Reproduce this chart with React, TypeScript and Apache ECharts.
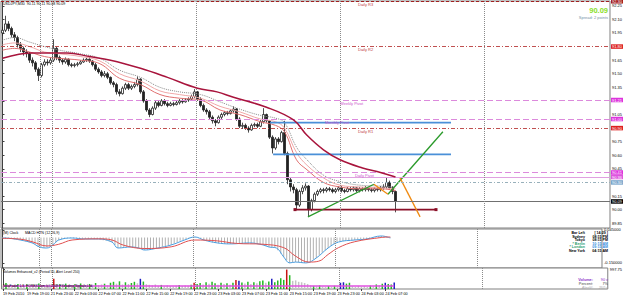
import React, { useEffect, useRef } from "react";
import * as echarts from "echarts";

const FONT = "'Liberation Sans', Arial, sans-serif";
const SLOTS = 203;
const LABEL_EVERY = 8;
const slotNames = Array.from({ length: SLOTS }, (_, i) => String(i));

const timeLabels = [
  "19 Feb 2010", "19 Feb 19:00", "21 Feb 23:00", "22 Feb 03:00", "22 Feb 07:00", "22 Feb 11:00",
  "22 Feb 15:00", "22 Feb 19:00", "22 Feb 23:00", "23 Feb 03:00", "23 Feb 07:00", "23 Feb 11:00",
  "23 Feb 15:00", "23 Feb 19:00", "23 Feb 23:00", "24 Feb 03:00", "24 Feb 07:00",
];

const priceTicks = [89.85, 90.0, 90.15, 90.3, 90.45, 90.6, 90.75, 90.9, 91.05, 91.2, 91.35, 91.5, 91.65, 91.8, 91.95, 92.1, 92.25];
const macdTicks = [0.045, -0.15];
const macdTickLabels = ["0.045000", "-0.150000"];
const volTicks = [1650];
const volTickLabels = ["997.75"];

// [open, close, low, high]
const candles = [
  [91.95,91.98,91.92,92.02],[91.98,92.05,91.96,92.14],[92.05,92.00,91.97,92.08],[92.00,91.93,91.90,92.02],[91.93,91.90,91.86,91.96],[91.90,91.82,91.79,91.92],[91.82,91.78,91.74,91.85],[91.78,91.74,91.70,91.80],[91.74,91.72,91.68,91.77],[91.72,91.65,91.62,91.74],
  [91.65,91.62,91.58,91.68],[91.62,91.55,91.52,91.64],[91.55,91.48,91.42,91.57],[91.48,91.60,91.46,91.62],[91.60,91.63,91.58,91.66],[91.63,91.62,91.59,91.66],[91.62,91.65,91.60,91.68],[91.65,91.78,91.63,91.88],[91.78,91.68,91.65,91.80],[91.68,91.65,91.62,91.70],
  [91.65,91.63,91.60,91.67],[91.63,91.66,91.61,91.68],[91.66,91.60,91.58,91.67],[91.60,91.59,91.57,91.62],[91.59,91.60,91.57,91.62],[91.60,91.61,91.58,91.63],[91.61,91.63,91.60,91.65],[91.63,91.65,91.62,91.67],[91.65,91.66,91.63,91.68],[91.66,91.64,91.62,91.68],
  [91.64,91.60,91.58,91.65],[91.60,91.55,91.53,91.62],[91.55,91.52,91.50,91.57],[91.52,91.48,91.46,91.54],[91.48,91.50,91.46,91.53],[91.50,91.46,91.44,91.52],[91.46,91.40,91.38,91.47],[91.40,91.38,91.35,91.42],[91.38,91.30,91.27,91.40],[91.30,91.28,91.25,91.33],
  [91.28,91.34,91.27,91.36],[91.34,91.38,91.32,91.40],[91.38,91.34,91.32,91.40],[91.34,91.36,91.32,91.38],[91.36,91.38,91.34,91.41],[91.38,91.44,91.36,91.47],[91.44,91.30,91.28,91.45],[91.30,91.20,91.18,91.32],[91.20,91.10,91.08,91.22],[91.10,91.05,91.02,91.12],
  [91.05,91.12,91.04,91.14],[91.12,91.18,91.10,91.20],[91.18,91.15,91.13,91.20],[91.15,91.20,91.14,91.22],[91.20,91.17,91.15,91.22],[91.17,91.15,91.13,91.19],[91.15,91.17,91.14,91.19],[91.17,91.16,91.14,91.19],[91.16,91.18,91.15,91.20],[91.18,91.20,91.16,91.22],
  [91.20,91.19,91.17,91.22],[91.19,91.21,91.18,91.23],[91.21,91.22,91.19,91.24],[91.22,91.25,91.20,91.27],[91.25,91.30,91.23,91.33],[91.30,91.22,91.20,91.31],[91.22,91.15,91.13,91.24],[91.15,91.10,91.08,91.17],[91.10,91.08,91.05,91.12],[91.08,91.02,91.00,91.10],
  [91.02,90.98,90.95,91.04],[90.98,90.96,90.92,91.00],[90.96,91.02,90.95,91.04],[91.02,91.05,91.00,91.07],[91.05,91.07,91.03,91.09],[91.07,91.06,91.04,91.09],[91.06,91.09,91.05,91.11],[91.09,91.11,91.07,91.14],[91.11,91.00,90.98,91.12],[91.00,90.92,90.90,91.02],
  [90.92,90.93,90.89,90.96],[90.93,90.90,90.88,90.95],[90.90,90.88,90.85,90.92],[90.88,90.93,90.87,90.95],[90.93,90.94,90.91,90.96],[90.94,90.92,90.90,90.96],[90.92,90.97,90.91,90.99],[90.97,91.05,90.95,91.12],[91.05,90.98,90.96,91.06],[90.98,90.80,90.78,90.99],
  [90.80,90.68,90.62,90.82],[90.68,90.78,90.66,90.80],[90.78,90.75,90.72,90.80],[90.75,90.85,90.74,90.87],[90.85,90.62,90.60,90.98],[90.62,90.33,90.28,90.64],[90.33,90.25,90.20,90.36],[90.25,90.22,90.18,90.28],[90.22,90.05,90.00,90.24],[90.05,90.20,90.03,90.22],
  [90.20,90.24,90.17,90.27],[90.24,90.26,90.21,90.29],[90.26,90.00,89.92,90.27],[90.00,90.10,89.98,90.12],[90.10,90.17,90.08,90.19],[90.17,90.20,90.15,90.22],[90.20,90.22,90.18,90.24],[90.22,90.21,90.18,90.24],[90.21,90.23,90.19,90.25],[90.23,90.22,90.20,90.25],
  [90.22,90.20,90.18,90.24],[90.20,90.22,90.18,90.24],[90.22,90.24,90.20,90.26],[90.24,90.21,90.19,90.26],[90.21,90.20,90.18,90.23],[90.20,90.23,90.19,90.25],[90.23,90.22,90.20,90.25],[90.22,90.24,90.20,90.26],[90.24,90.21,90.19,90.25],[90.21,90.23,90.19,90.25],
  [90.23,90.22,90.20,90.25],[90.22,90.24,90.20,90.26],[90.24,90.22,90.20,90.25],[90.22,90.21,90.19,90.24],[90.21,90.23,90.19,90.25],[90.23,90.22,90.20,90.25],[90.22,90.24,90.20,90.26],[90.24,90.25,90.22,90.28],[90.25,90.30,90.23,90.36],[90.30,90.24,90.22,90.32],
  [90.24,90.20,90.17,90.26],[90.20,90.09,89.97,90.21],
];

// moving averages: [bar, price]
const maSlow = [[0,91.67],[10,91.73],[21.5,91.73],[29,91.69],[36,91.65],[46,91.56],[55,91.46],[65,91.34],[71.5,91.30],[77,91.24],[88,91.13],[97,90.99],[101.5,90.82],[107,90.66],[112.5,90.55],[120,90.46],[126,90.41],[131,90.36]];
const maBars = [0, 4, 9, 14, 19, 26, 32.5, 39, 46, 52.5, 59, 66, 72.5, 79, 86, 91, 94, 98, 101.5, 107, 112.5, 119, 126, 131];
const maFastA = [91.76,91.78,91.74,91.69,91.67,91.65,91.61,91.45,91.38,91.27,91.23,91.21,91.10,91.05,90.97,90.93,90.86,90.55,90.44,90.30,90.25,90.23,90.23,90.21];
const maFastB = [91.82,91.84,91.80,91.74,91.72,91.69,91.64,91.50,91.42,91.31,91.27,91.23,91.14,91.08,91.00,90.97,90.90,90.63,90.49,90.35,90.27,90.25,90.24,90.23];
const maFastC = [91.87,91.90,91.85,91.80,91.76,91.72,91.67,91.54,91.46,91.35,91.30,91.27,91.19,91.11,91.04,91.01,90.96,90.69,90.55,90.38,90.31,90.27,90.26,90.25];

// horizontal levels
const levelNames = ["Daily R3", "Daily R2", "Weekly Pivot", "Monthly Pivot", "Daily R1", "Daily Pivot", "", "", ""];
const levelValues = [92.30, 91.80, 91.21, 91.00, 90.90, 90.41, 90.36, 90.30, 90.09];

// drawn objects [bar, price]
const greenLines = [[[101.8, 89.92], [123.8, 90.28]], [[128.5, 90.17], [146.8, 90.86]]];
const orangeLines = [[[123.8, 90.28], [128.5, 90.17]], [[132.5, 90.35], [139.2, 89.92]]];
const blueLevels = [[[89.2, 90.96], [149.5, 90.96]], [[90.2, 90.61], [149.5, 90.61]]];
const supportLine = [[97.5, 90.0], [144.5, 90.0]];
const daySeparators = [12.5, 16.5, 64.5, 112.5, 160.5];

// MACD
const macdHist = [
  -0.003,-0.004,-0.005,-0.007,-0.010,-0.012,-0.015,-0.020,-0.025,-0.029,
  -0.032,-0.042,-0.056,-0.060,-0.062,-0.058,-0.052,-0.044,-0.030,-0.015,
  -0.010,-0.006,-0.004,-0.003,-0.004,-0.005,-0.007,-0.008,-0.009,-0.009,
  -0.009,-0.009,-0.009,-0.012,-0.016,-0.020,-0.024,-0.027,-0.045,-0.062,
  -0.060,-0.058,-0.056,-0.056,-0.058,-0.060,-0.062,-0.068,-0.074,-0.072,
  -0.070,-0.066,-0.062,-0.058,-0.055,-0.051,-0.048,-0.044,-0.036,-0.028,
  -0.020,-0.015,-0.010,-0.005,0.000,0.003,-0.003,-0.009,-0.015,-0.020,
  -0.024,-0.028,-0.032,-0.034,-0.035,-0.036,-0.037,-0.038,-0.037,-0.036,
  -0.035,-0.034,-0.033,-0.032,-0.034,-0.036,-0.039,-0.041,-0.044,-0.050,
  -0.056,-0.059,-0.062,-0.075,-0.095,-0.115,-0.135,-0.150,-0.148,-0.145,
  -0.147,-0.149,-0.150,-0.145,-0.138,-0.130,-0.121,-0.105,-0.090,-0.075,
  -0.062,-0.050,-0.038,-0.027,-0.024,-0.022,-0.020,-0.018,-0.016,-0.015,
  -0.013,-0.012,-0.010,-0.009,-0.005,-0.002,0.002,0.006,0.009,0.006,
  0.002,-0.003,
];
const macdMain = [[0,-0.003],[2.5,-0.005],[6,-0.015],[10,-0.032],[12.5,-0.056],[15,-0.062],[17,-0.044],[19,-0.015],[23.5,-0.003],[28,-0.009],[32.5,-0.009],[37,-0.027],[39,-0.062],[43.5,-0.056],[46,-0.062],[48,-0.074],[52.5,-0.062],[57,-0.044],[61.5,-0.015],[65,0.003],[68,-0.015],[72.5,-0.032],[77,-0.038],[83.5,-0.032],[88,-0.044],[90,-0.056],[92.5,-0.062],[95,-0.115],[97,-0.150],[99,-0.145],[102.5,-0.150],[106,-0.121],[110,-0.062],[113.5,-0.027],[119,-0.015],[123,-0.009],[128,0.009],[131,-0.003]];
const macdSignal = [[0,-0.005],[6,-0.010],[10,-0.025],[15,-0.050],[19,-0.040],[23.5,-0.015],[32.5,-0.008],[37,-0.015],[40.8,-0.045],[48,-0.065],[57,-0.055],[65,-0.015],[72.5,-0.020],[79,-0.035],[88,-0.040],[95,-0.060],[99,-0.110],[103.5,-0.145],[106.8,-0.140],[110,-0.100],[113.5,-0.060],[119,-0.025],[128,0.000],[131,0.003]];

// Volumes
const volumes = [
  300,510,250,340,260,420,300,220,380,280,
  330,250,450,300,200,260,350,850,420,380,
  300,450,340,280,390,310,460,350,300,420,
  360,500,330,380,440,300,520,600,450,640,
  380,560,420,500,600,480,850,620,400,350,
  300,380,260,340,220,300,250,200,280,330,
  240,300,280,350,520,420,500,380,560,430,
  600,480,350,520,410,470,360,520,760,680,
  540,450,600,420,560,480,640,700,520,620,
  850,560,700,900,760,1620,1150,680,720,600,
  560,500,420,300,260,220,300,200,180,250,
  200,270,230,520,560,450,520,230,180,260,
  200,240,170,280,220,380,320,440,520,420,
  380,540,
];
const volTypes =
  "gGgggGggGg" + "ggGggggRgG" + "gGggGgGggG" + "gGggGgGGgG" + "gGgGGgBGgg" +
  "gggGgggggG" + "gggGRGGgGg" + "GGgGgGgGRB" + "GgGgGgGGgG" + "BGGGGRGggg" +
  "ggggGgGggG" + "gGgBBGGggg" + "gggGgGgGBG" + "GB";
const alertLevel = 250;

const volColor: Record<string, string> = { g: "#c4c4c4", G: "#22b822", B: "#1c1cc0", R: "#c81414" };

const levelStyles = [
  { color: "#a02020", type: [3, 2], box: "#a01818", text: "#c04040" },
  { color: "#c05050", type: [4, 2, 1, 2], box: "#dd2020", text: "#c04040" },
  { color: "#dc8adc", type: [6, 3], box: "#dd33dd", text: "#cc55cc" },
  { color: "#dc8adc", type: [6, 3], box: "#dd33dd", text: "#cc55cc" },
  { color: "#c05050", type: [4, 2, 1, 2], box: "#dd2020", text: "#c04040" },
  { color: "#dc8adc", type: [6, 3], box: "#dd33dd", text: "#cc55cc" },
  { color: "#e0a0e0", type: "solid", box: "#dd55dd", text: "#cc55cc" },
  { color: "#98b0bb", type: [3, 2, 1, 2], box: "#7aa6cc", text: "#557788" },
  { color: "#707070", type: "solid", box: "#000000", text: "#000" },
];
const levelLabelAt = [118.5, 118.5, 112.5, 107.5, 118.5, 117.5, 0, 0, 0];

function sepLines() {
  return daySeparators.map((v) => ({ xAxis: v, lineStyle: { color: "#8a8a8a", type: [1, 1], width: 1 }, label: { show: false } }));
}

function txt(text: string, x: number, y: number, opts: any = {}) {
  return {
    type: "text", x, y, silent: true, z: 100,
    style: { text, fill: opts.fill || "#000", fontSize: opts.size || 4, fontFamily: FONT, fontWeight: opts.weight || "normal", fontStyle: opts.style || "normal", align: opts.align || "left", verticalAlign: "top" },
  };
}

function buildOption() {
  const levelLines = levelValues.map((v, i) => ({
    yAxis: v,
    lineStyle: { color: levelStyles[i].color, type: levelStyles[i].type, width: 1 },
    label: { show: true, position: "end", distance: 1, formatter: v.toFixed(2), color: "#fff", backgroundColor: levelStyles[i].box, fontSize: 4, fontFamily: FONT, padding: [0.5, 1, 0, 1] },
  }));
  const levelMarks = levelNames
    .map((n, i) => ({ n, i }))
    .filter((o) => o.n)
    .map(({ n, i }) => ({
      name: n, coord: [levelLabelAt[i], levelValues[i]], symbol: "rect", symbolSize: 0,
      label: { show: true, formatter: n, position: "bottom", distance: 1, align: "left", color: levelStyles[i].text, fontSize: 4, fontFamily: FONT },
    }));

  const seg = (data: number[][], color: string, width: number, extra: any = {}) => ({
    type: "line", xAxisIndex: 1, yAxisIndex: 0, data, showSymbol: false, symbol: "none",
    lineStyle: { color, width }, silent: true, z: 4, ...extra,
  });

  const series: any[] = [
    {
      type: "candlestick", xAxisIndex: 0, yAxisIndex: 0, data: candles, barWidth: 1.6, z: 3,
      itemStyle: { color: "#ffffff", color0: "#222222", borderColor: "#222222", borderColor0: "#222222", borderWidth: 0.8 },
    },
    {
      type: "line", xAxisIndex: 1, yAxisIndex: 0, data: maSlow, smooth: 0.4, showSymbol: false, symbol: "none",
      lineStyle: { color: "#a8143c", width: 1.5 }, z: 5,
      markLine: { silent: true, symbol: ["none", "none"], animation: false, data: [...levelLines, ...sepLines()] },
      markPoint: { silent: true, animation: false, data: levelMarks },
    },
    seg(maBars.map((b, i) => [b, maFastA[i]]), "#e07070", 1, { smooth: 0.4 }),
    seg(maBars.map((b, i) => [b, maFastB[i]]), "#f0a8a8", 1, { smooth: 0.4 }),
    seg(maBars.map((b, i) => [b, maFastC[i]]), "#8a8a8a", 1, { smooth: 0.4, lineStyle: { color: "#8a8a8a", width: 1, type: [1, 1] } }),
    ...blueLevels.map((d) => seg(d, "#4a90d8", 1.6)),
    seg(supportLine, "#8b1028", 1.8, { showSymbol: true, symbol: "rect", symbolSize: 3, itemStyle: { color: "#8b1028" } }),
    ...greenLines.map((d) => seg(d, "#2a9a2a", 1.3)),
    ...orangeLines.map((d) => seg(d, "#f08a10", 1.3)),
    {
      type: "bar", xAxisIndex: 2, yAxisIndex: 1, data: macdHist, barWidth: 1, itemStyle: { color: "#b0b0b0" }, silent: true,
    },
    {
      type: "line", xAxisIndex: 3, yAxisIndex: 1, data: macdMain, smooth: 0.4, showSymbol: false, symbol: "none",
      lineStyle: { color: "#4a9ee0", width: 1 }, silent: true,
      markLine: { silent: true, symbol: ["none", "none"], animation: false, data: sepLines() },
    },
    {
      type: "line", xAxisIndex: 3, yAxisIndex: 1, data: macdSignal, smooth: 0.4, showSymbol: false, symbol: "none",
      lineStyle: { color: "#e05050", width: 1 }, silent: true,
    },
    {
      type: "bar", xAxisIndex: 4, yAxisIndex: 2, barWidth: 1.5, silent: true,
      data: volumes.map((v, i) => ({ value: v, itemStyle: { color: volColor[volTypes[i]] } })),
    },
    {
      type: "line", xAxisIndex: 5, yAxisIndex: 2, data: [[0, alertLevel], [candles.length - 1, alertLevel]],
      showSymbol: false, symbol: "none", lineStyle: { color: "#e050e0", width: 1.4 }, silent: true, z: 5,
      markLine: { silent: true, symbol: ["none", "none"], animation: false, data: sepLines() },
    },
  ];

  const gridBase = { left: 1, right: 15, show: true, borderColor: "#808080", borderWidth: 1, backgroundColor: "#fff" };
  const hiddenVal = (g: number) => ({ type: "value", gridIndex: g, min: -0.5, max: SLOTS - 0.5, show: false });
  const hiddenCat = (g: number) => ({ type: "category", gridIndex: g, data: slotNames, boundaryGap: true, show: false });
  const labelShown = (i: number) => i % LABEL_EVERY === 0 && i / LABEL_EVERY < timeLabels.length;

  const rightAxis = (g: number, min: number, max: number, ticks: number[], fmt: (v: number) => string) => ({
    type: "value", gridIndex: g, position: "right", min, max,
    splitLine: { show: false },
    axisLine: { show: true, lineStyle: { color: "#404040", width: 1 } },
    axisTick: { show: true, length: 2, customValues: ticks, lineStyle: { color: "#404040" } },
    axisLabel: { show: true, customValues: ticks, fontSize: 4, margin: 2, color: "#000", fontFamily: FONT, formatter: fmt },
  });

  const graphic: any[] = [
    txt("USDJPY,M30  90.11 90.11 90.08 90.09", 3, 1.5, { size: 3.6 }),
    txt("90.09", 608, 6, { size: 7.5, fill: "#8ae02a", weight: "bold", align: "right" }),
    txt("Spread: 2 points", 608, 15.5, { size: 4, fill: "#7590a8", align: "right" }),
    txt("(M) Clock", 3, 230.5, { size: 3.6 }),
    txt("MACD HTN (12,26,9)", 25, 230.5, { size: 3.6 }),
    txt("Volumes Enhanced_v2 (Period 50, Alert Level 250)", 3, 270, { size: 3.4 }),
    txt("VolaFader 1.8. FOREX.com (c) 2009 FXtrading Signals Ltd.", 3, 284.5, { size: 3.4 }),
  ];
  const clockNames = ["Bar Left", "Sydney", "Tokyo", "* Berlin", "* London", "New York"];
  const clockTimes = ["[ 14:29 ]", "08:15 PM", "08:15 PM", "10:15 AM", "09:15 AM", "04:15 AM"];
  const clockNameColors = ["#000", "#000", "#000", "#2e9e6e", "#2e9e6e", "#000"];
  const clockTimeColors = ["#000", "#000", "#000", "#3090e0", "#3090e0", "#000"];
  clockNames.forEach((n, i) => {
    graphic.push(txt(n, 585, 231 + i * 3.6, { size: 3.6, fill: clockNameColors[i], weight: "bold", align: "right" }));
    graphic.push(txt(clockTimes[i], 608, 231 + i * 3.6, { size: 3.6, fill: clockTimeColors[i], weight: "bold", align: "right" }));
  });
  const volNames = ["Volume:", "Percent:", "AlertV:"];
  const volVals = ["90 v", "7%", "250 v"];
  const volCols = ["#8a2ac8", "#444", "#aaaaaa"];
  volNames.forEach((n, i) => {
    graphic.push(txt(n, 593, 277.5 + i * 4, { size: 3.8, fill: volCols[i], weight: i === 0 ? "bold" : "normal", style: i === 2 ? "italic" : "normal", align: "right" }));
    graphic.push(txt(volVals[i], 608, 277.5 + i * 4, { size: 3.8, fill: volCols[i], style: i === 2 ? "italic" : "normal", align: "right" }));
  });

  return {
    animation: false,
    backgroundColor: "#ffffff",
    textStyle: { fontFamily: FONT },
    grid: [
      { ...gridBase, top: 1, height: 227 },
      { ...gridBase, top: 229, height: 39 },
      { ...gridBase, top: 268, height: 21 },
    ],
    xAxis: [
      hiddenCat(0), hiddenVal(0), hiddenCat(1), hiddenVal(1),
      {
        type: "category", gridIndex: 2, data: slotNames, boundaryGap: true,
        axisLine: { show: false },
        axisTick: { show: true, length: 2, interval: (i: number) => labelShown(i), alignWithLabel: true, lineStyle: { color: "#404040" } },
        axisLabel: {
          show: true, interval: (i: number) => labelShown(i), align: "left", margin: 3, fontSize: 3.8, color: "#000", fontFamily: FONT,
          formatter: (_v: string, i: number) => timeLabels[i / LABEL_EVERY] || "",
        },
      },
      hiddenVal(2),
    ],
    yAxis: [
      rightAxis(0, 89.797, 92.303, priceTicks, (v) => v.toFixed(2)),
      rightAxis(1, -0.18, 0.05, macdTicks, (v) => macdTickLabels[macdTicks.indexOf(v)] ?? ""),
      rightAxis(2, 0, 1750, volTicks, (v) => volTickLabels[volTicks.indexOf(v)] ?? ""),
    ],
    series,
    graphic,
  };
}

export default function App() {
  const ref = useRef<HTMLDivElement>(null);
  useEffect(() => {
    const chart = echarts.init(ref.current!, null, { renderer: "svg", width: 625, height: 299 });
    chart.setOption(buildOption() as any);
    return () => chart.dispose();
  }, []);
  return <div ref={ref} style={{ position: "fixed", left: 0, top: 0, width: 625, height: 299, background: "#fff" }} />;
}
